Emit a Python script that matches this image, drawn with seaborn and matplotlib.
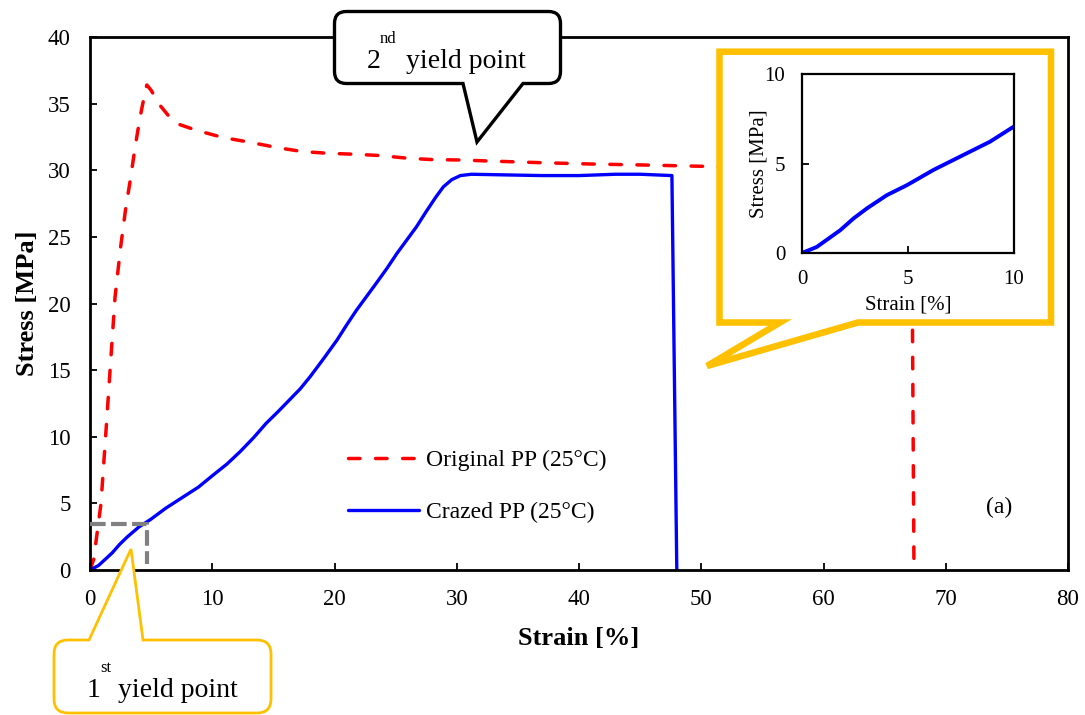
import matplotlib
matplotlib.use("Agg")
import matplotlib.pyplot as plt
from matplotlib.path import Path
from matplotlib.patches import PathPatch
import seaborn as sns
import pandas as pd

# ---- tensile test data (strain in %, stress in MPa) ----
original_strain = [0, 0.3, 0.9, 1.35, 1.7, 2.05, 2.5, 2.9, 3.3, 3.7, 4.1, 4.45, 4.65,
                   5.0, 5.7, 6.5, 7.1, 8.7, 10.9, 13.1, 15.3, 17.4, 19.5, 21.7, 23.8,
                   26.0, 28.0, 30.3, 32.4, 36.8, 40.9, 45.0, 49.9, 55.0, 60.0, 65.0,
                   67.2, 67.4]
original_stress = [0, 0.8, 5.0, 11.0, 15.8, 20.5, 24.2, 27.0, 29.3, 31.8, 34.0, 35.6, 36.4,
                   36.0, 34.9, 34.0, 33.5, 33.0, 32.45, 32.1, 31.7, 31.4, 31.27, 31.2, 31.1,
                   30.9, 30.8, 30.77, 30.7, 30.57, 30.47, 30.4, 30.3, 30.2, 30.1, 30.0,
                   29.9, 0]

crazed_strain = [0, 0.7, 1.8, 2.43, 3.06, 4.0, 4.95, 6.2, 7.77, 8.87, 10.0, 11.2, 12.3,
                 13.4, 14.4, 15.4, 16.3, 17.2, 18.0, 19.1, 20.2, 21.0, 21.8, 22.6, 23.4,
                 24.3, 25.1, 25.9, 26.7, 27.5, 28.3, 28.9, 29.6, 30.3, 31.2, 34.0, 37.0,
                 40.0, 43.0, 45.0, 47.6, 48.0]
crazed_stress = [0, 0.34, 1.27, 1.93, 2.49, 3.23, 3.79, 4.64, 5.57, 6.22, 7.07, 7.95, 8.9,
                 9.95, 11.0, 11.9, 12.75, 13.6, 14.5, 15.85, 17.25, 18.4, 19.5, 20.5, 21.5,
                 22.65, 23.75, 24.75, 25.75, 26.9, 28.0, 28.75, 29.3, 29.6, 29.7, 29.65, 29.6,
                 29.6, 29.7, 29.7, 29.6, 0]

series_labels = ["Original PP (25\u00b0C)", "Crazed PP (25\u00b0C)"]

# first yield point guide (strain, stress)
yield1_strain = 4.7
yield1_stress = 3.45

main_xticks = list(range(0, 81, 10))
main_yticks = list(range(0, 41, 5))
inset_ticks = [0, 5, 10]

RED = "#FF0000"
BLUE = "#0000FF"
GOLD = "#FFC000"

sns.set_style("ticks")
plt.rcParams["font.family"] = ["Liberation Serif", "DejaVu Serif"]
plt.rcParams["text.color"] = "black"
plt.rcParams["axes.labelcolor"] = "black"
plt.rcParams["xtick.color"] = "black"
plt.rcParams["ytick.color"] = "black"
plt.rcParams["axes.edgecolor"] = "black"

W, H = 1085, 715
fig = plt.figure(figsize=(W / 100, H / 100), dpi=100)

df_orig = pd.DataFrame({"strain": original_strain, "stress": original_stress})
df_craz = pd.DataFrame({"strain": crazed_strain, "stress": crazed_stress})

# ---- main axes ----
ax = fig.add_axes([90 / W, 1 - 570 / H, 978 / W, 533 / H])
ax.set_zorder(1)
sns.lineplot(data=df_orig, x="strain", y="stress", ax=ax, sort=False, estimator=None,
             color=RED, lw=2.5, linestyle=(0, (3.3, 4.5)), dash_capstyle="round",
             label=series_labels[0])
sns.lineplot(data=df_craz, x="strain", y="stress", ax=ax, sort=False, estimator=None,
             color=BLUE, lw=2.4, label=series_labels[1])
ax.plot([0, yield1_strain, yield1_strain], [yield1_stress, yield1_stress, 0.45],
        color="#808080", lw=3, linestyle=(0, (3.75, 1.3)), dash_capstyle="butt", zorder=3)

ax.set_xlim(0, 80)
ax.set_ylim(0, 40)
ax.set_xticks(main_xticks)
ax.set_yticks(main_yticks)
ax.tick_params(direction="in", length=5, width=1.3, labelsize=16.5, pad=14,
               top=False, right=False, colors="black")
for s in ax.spines.values():
    s.set_linewidth(2)
    s.set_color("black")
ax.set_xlabel("Strain [%]", fontsize=19, fontweight="bold")
ax.set_ylabel("Stress [MPa]", fontsize=19, fontweight="bold")
ax.xaxis.set_label_coords(0.5, -0.107)
ax.yaxis.set_label_coords(-0.052, 0.5)

leg = ax.legend(loc="center left", bbox_to_anchor=((348 - 90) / 978, (570 - 486.5) / 533),
                frameon=False, fontsize=17, handlelength=3.0, handletextpad=0.3,
                labelspacing=1.3, borderpad=0, borderaxespad=0)
ax.text(74.4, 4.7, "(a)", fontsize=17, ha="center", va="center")

# ---- overlay in pixel coordinates for the callouts ----
ov = fig.add_axes([0, 0, 1, 1])
ov.set_zorder(2)
ov.set_xlim(0, W)
ov.set_ylim(H, 0)
ov.axis("off")
ov.patch.set_alpha(0)


def bubble(x0, y0, x1, y1, r, tail, edge):
    verts, codes = [], []

    def mv(p):
        verts.append(p); codes.append(Path.MOVETO)

    def ln(p):
        verts.append(p); codes.append(Path.LINETO)

    def cv(ctrl, p):
        verts.extend([ctrl, p]); codes.extend([Path.CURVE3, Path.CURVE3])

    mv((x0 + r, y0))
    if edge == "top":
        ln((tail[0], y0)); ln(tail[1]); ln((tail[2], y0))
    ln((x1 - r, y0)); cv((x1, y0), (x1, y0 + r))
    ln((x1, y1 - r)); cv((x1, y1), (x1 - r, y1))
    if edge == "bottom":
        ln((tail[2], y1)); ln(tail[1]); ln((tail[0], y1))
    ln((x0 + r, y1)); cv((x0, y1), (x0, y1 - r))
    ln((x0, y0 + r)); cv((x0, y0), (x0 + r, y0))
    verts.append((x0 + r, y0)); codes.append(Path.CLOSEPOLY)
    return Path(verts, codes)


# inset frame with pointer
ov.add_patch(PathPatch(bubble(719.5, 51.7, 1051, 322.5, 0, (780, (707, 366), 858), "bottom"),
                       facecolor="white", edgecolor=GOLD, lw=4.7, joinstyle="miter"))
# second yield point callout
ov.add_patch(PathPatch(bubble(334.5, 11.5, 560.5, 83.5, 12, (463, (477, 142), 523), "bottom"),
                       facecolor="white", edgecolor="black", lw=2.4, joinstyle="miter"))
ov.text(367, 68, "2", fontsize=20, ha="left", va="baseline")
ov.text(380, 43, "nd", fontsize=12, ha="left", va="baseline")
ov.text(406, 68, "yield point", fontsize=20, ha="left", va="baseline")
# first yield point callout
ov.add_patch(PathPatch(bubble(54, 640, 271, 713, 14, (89, (131, 549), 143), "top"),
                       facecolor="white", edgecolor=GOLD, lw=2.0, joinstyle="miter"))
ov.text(87, 697, "1", fontsize=20, ha="left", va="baseline")
ov.text(100, 672, "st", fontsize=12, ha="left", va="baseline")
ov.text(118, 697, "yield point", fontsize=20, ha="left", va="baseline")

# ---- inset: early part of the crazed curve ----
ins = fig.add_axes([802 / W, 1 - 253 / H, 212 / W, 179 / H])
ins.set_zorder(3)
sns.lineplot(data=df_craz, x="strain", y="stress", ax=ins, sort=False, estimator=None,
             color=BLUE, lw=2.8)
ins.set_xlim(0, 10)
ins.set_ylim(0, 10)
ins.set_xticks(inset_ticks)
ins.set_yticks(inset_ticks)
ins.tick_params(direction="in", length=5, width=1.3, labelsize=15, pad=12,
                top=False, right=False, colors="black")
for s in ins.spines.values():
    s.set_linewidth(1.6)
    s.set_color("black")
ins.set_xlabel("Strain [%]", fontsize=15)
ins.set_ylabel("Stress [MPa]", fontsize=15)
ins.xaxis.set_label_coords(0.5, -0.235)
ins.yaxis.set_label_coords(-0.16, 0.5)

fig.savefig("out.png", dpi=100, facecolor="white")
